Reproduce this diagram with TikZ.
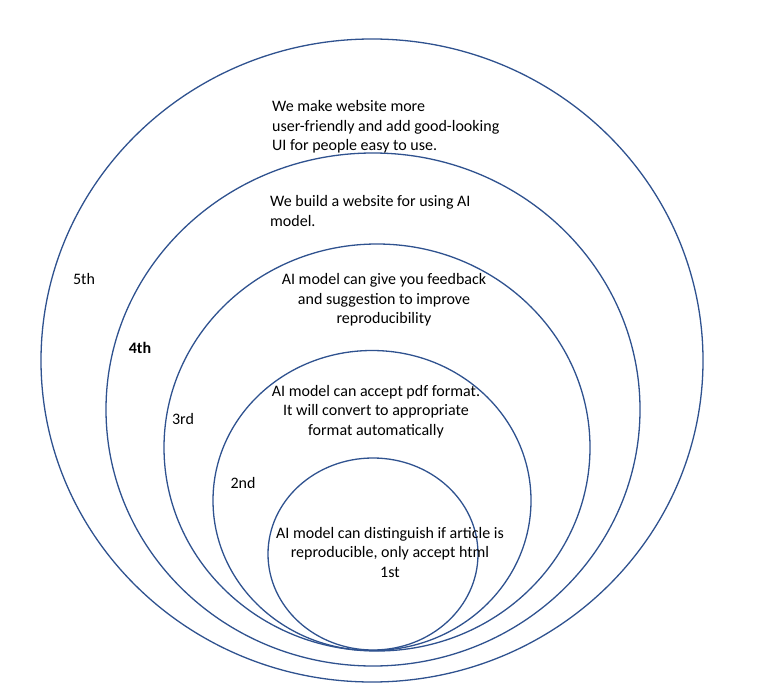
\documentclass[tikz,border=0pt]{standalone}
\usepackage{fontspec}
\setmainfont{Carlito}
\usetikzlibrary{shapes.geometric}
\definecolor{ringblue}{RGB}{47,82,143}
\begin{document}
\begin{tikzpicture}[x=1pt,y=-1pt,
  ring/.style={draw=ringblue, line width=1.3pt, ellipse, inner sep=0pt},
  lbl/.style={font=\fontsize{16}{19.5}\selectfont, inner sep=0pt, text=black}]
\useasboundingbox (0,0) rectangle (770,692);
\node[ring, minimum width=662pt, minimum height=643pt] (r5) at (372,360.5) {};
\node[ring, minimum width=534pt, minimum height=513pt] (r4) at (373,409.5) {};
\node[ring, minimum width=426pt, minimum height=407pt] (r3) at (377,447.5) {};
\node[ring, minimum width=318pt, minimum height=300pt] (r2) at (372,500.5) {};
\node[ring, minimum width=210pt, minimum height=192pt] (r1) at (373,554) {};
\node[lbl, align=left, anchor=base west] (t5) at (272,151) {We make website more\\user-friendly and add good-looking\\UI for people easy to use.};
\node[lbl, align=left, anchor=base west] (t4) at (270,226.5) {We build a website for using AI\\model.};
\node[lbl, align=center, anchor=base] (t3) at (384,323.5) {AI model can give you feedback\\and suggestion to improve\\reproducibility};
\node[lbl, align=center, anchor=base] (t2) at (376,435) {AI model can accept pdf format.\\It will convert to appropriate\\format automatically};
\node[lbl, align=center, anchor=base] (t1) at (390,577) {AI model can distinguish if article is\\reproducible, only accept html\\1st};
\node[lbl, anchor=base] (l5) at (84,284) {5th};
\node[lbl, anchor=base, font=\fontsize{16}{19.5}\selectfont\bfseries] (l4) at (140,353) {4th};
\node[lbl, anchor=base] (l3) at (183,424) {3rd};
\node[lbl, anchor=base] (l2) at (243,488) {2nd};
\end{tikzpicture}
\end{document}
